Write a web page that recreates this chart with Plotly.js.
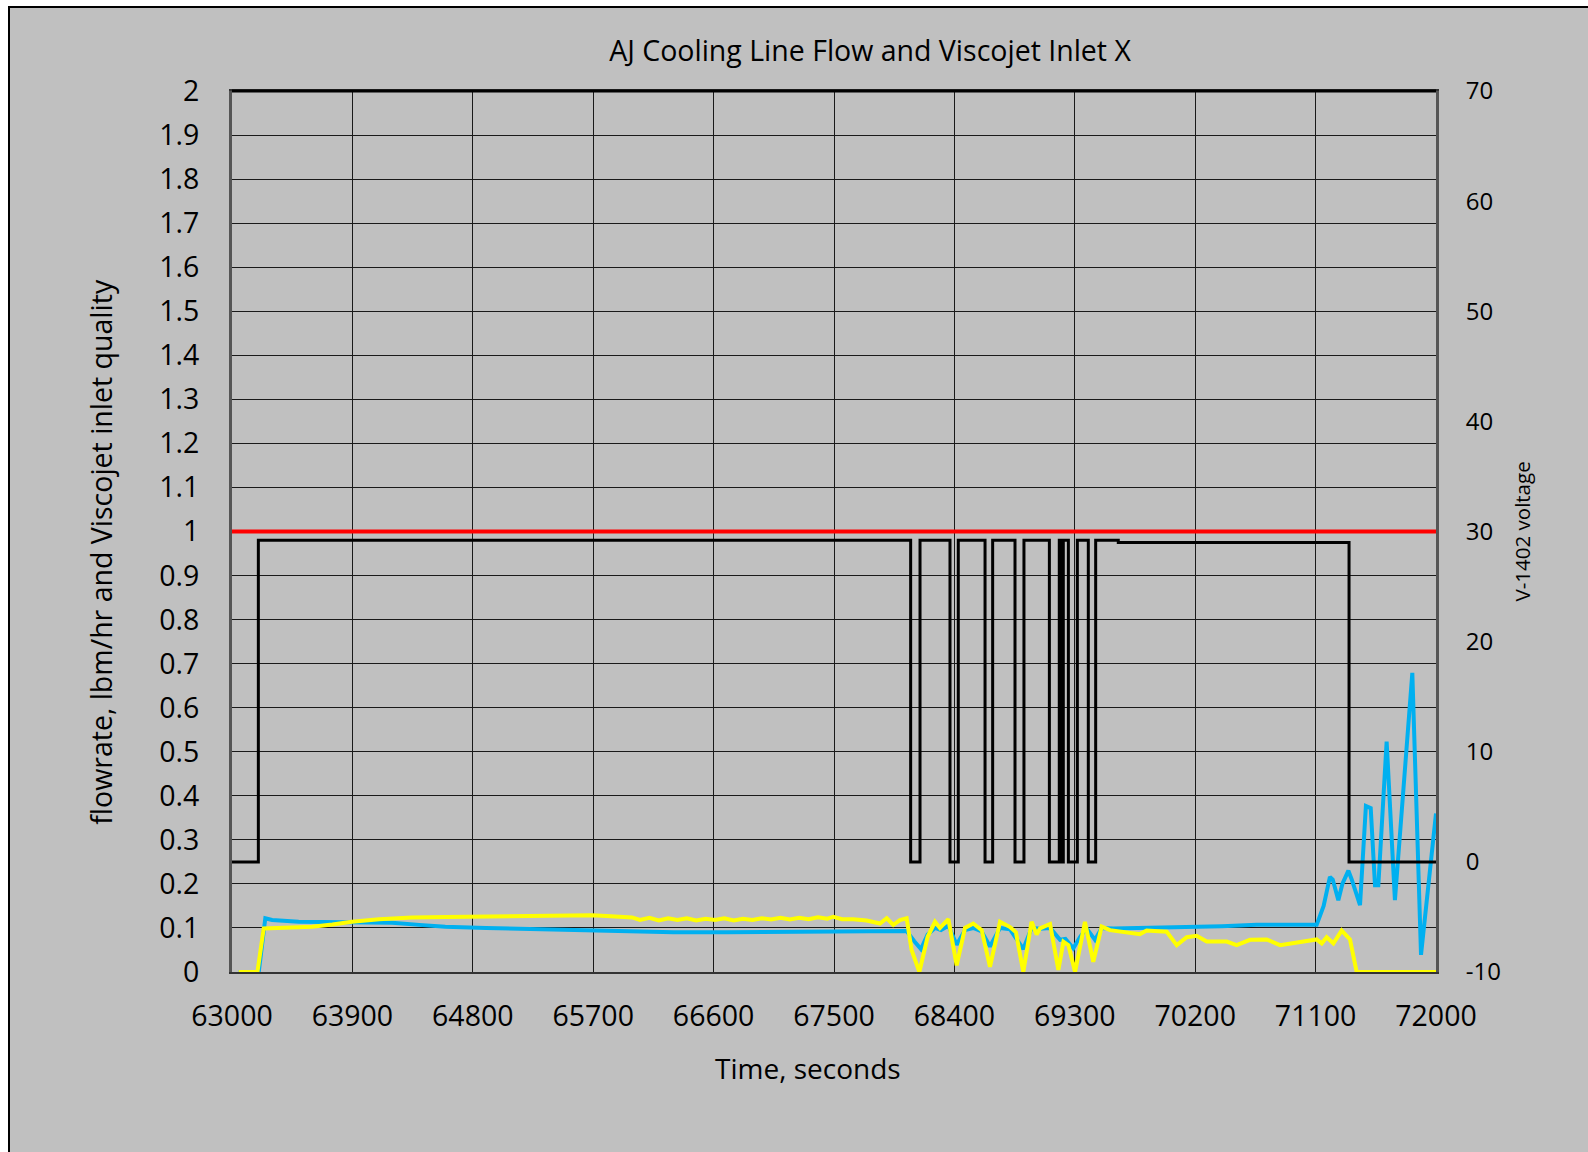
<!DOCTYPE html>
<html>
<head>
<meta charset="utf-8">
<script src="https://cdn.plot.ly/plotly-3.0.1.min.js"></script>
<style>
  html, body { margin: 0; padding: 0; background: #ffffff; }
  #wrap { position: absolute; left: 8px; top: 6px; width: 1580px; height: 1146px;
          border-left: 2px solid #000; border-top: 2px solid #000; background: #c0c0c0; overflow: hidden; }
  #chart { width: 1578px; height: 1144px; }
</style>
</head>
<body>
<div id="wrap"><div id="chart"></div></div>
<script>
// ---- data ----
const titleText = "AJ Cooling Line Flow and Viscojet Inlet X";
const xTitle = "Time, seconds";
const yTitle = "flowrate, lbm/hr and Viscojet inlet quality";
const y2Title = "V-1402 voltage";

// right-axis tick values and labels (plain hyphen as in the reference)
const y2TickVals = [-10, 0, 10, 20, 30, 40, 50, 60, 70];
const y2TickText = ["-10", "0", "10", "20", "30", "40", "50", "60", "70"];

// V-1402 voltage (right axis), step signal: time of each change and new level
const voltX = [63000, 63197, 68073, 68143, 68367, 68429, 68629, 68686, 68853, 68920,
               69110, 69184, 69194, 69214, 69252, 69319, 69401, 69456, 69625, 71350, 72000];
const voltY = [0, 29.2, 0, 29.2, 0, 29.2, 0, 29.2, 0, 29.2,
               0, 29.2, 0, 29.2, 0, 29.2, 0, 29.2, 29.0, 0, 0];

// quality limit (left axis)
const limitX = [63000, 72000];
const limitY = [1, 1];

// flow rate (blue, left axis)
const flowX = [63050, 63200, 63249, 63300, 63498, 63700, 63897, 64050, 64196, 64400, 64594, 64900,
               65243, 65500, 65691, 65900, 66139, 66300, 66700, 67000, 67400, 67700, 67943, 68043,
               68100, 68150, 68200, 68255, 68300, 68355, 68417, 68479, 68541, 68604, 68666, 68741,
               68816, 68915, 68977, 69040, 69115, 69190, 69230, 69289, 69340, 69388, 69451, 69501,
               69588, 69800, 70000, 70161, 70400, 70660, 70900, 71108, 71160, 71207, 71228, 71270,
               71300, 71345, 71370, 71432, 71476, 71512, 71544, 71569, 71631, 71693, 71823, 71888, 72000];
const flowY = [0, 0, 0.122, 0.118, 0.114, 0.114, 0.114, 0.113, 0.112, 0.107, 0.103, 0.100,
               0.097, 0.096, 0.095, 0.093, 0.091, 0.090, 0.090, 0.091, 0.092, 0.093, 0.094, 0.093,
               0.070, 0.052, 0.085, 0.100, 0.095, 0.105, 0.062, 0.095, 0.100, 0.092, 0.058, 0.100,
               0.097, 0.052, 0.100, 0.098, 0.100, 0.073, 0.075, 0.054, 0.080, 0.099, 0.073, 0.100,
               0.099, 0.100, 0.102, 0.103, 0.104, 0.107, 0.106, 0.107, 0.150, 0.216, 0.210, 0.163,
               0.200, 0.230, 0.210, 0.152, 0.377, 0.372, 0.197, 0.197, 0.523, 0.163, 0.679, 0.039, 0.360];

// Viscojet inlet quality (yellow, left axis)
const qualX = [63050, 63190, 63237, 63400, 63598, 63750, 63897, 64100, 64345, 64600, 64794, 65000,
               65300, 65500, 65691, 65800, 65990, 66050, 66120, 66190, 66260, 66330, 66400, 66470,
               66540, 66610, 66680, 66750, 66820, 66890, 66960, 67030, 67100, 67170, 67240, 67310,
               67380, 67450, 67495, 67560, 67644, 67744, 67794, 67844, 67894, 67943, 67993, 68043,
               68080, 68138, 68200, 68255, 68292, 68355, 68417, 68479, 68541, 68604, 68666, 68741,
               68816, 68860, 68915, 68977, 69015, 69040, 69115, 69177, 69215, 69252, 69302, 69376,
               69438, 69501, 69563, 69638, 69787, 69837, 69987, 70062, 70137, 70211, 70286, 70436,
               70510, 70610, 70734, 70834, 70983, 71108, 71146, 71183, 71233, 71295, 71357, 71407, 72000];
const qualY = [0, 0, 0.099, 0.101, 0.103, 0.108, 0.114, 0.120, 0.124, 0.125, 0.1255, 0.125,
               0.126, 0.127, 0.129, 0.127, 0.124, 0.118, 0.123, 0.117, 0.122, 0.118, 0.122, 0.117,
               0.121, 0.118, 0.122, 0.117, 0.121, 0.118, 0.122, 0.119, 0.123, 0.119, 0.123, 0.120,
               0.124, 0.121, 0.1255, 0.120, 0.120, 0.117, 0.114, 0.110, 0.122, 0.107, 0.118, 0.122,
               0.050, 0.000, 0.080, 0.114, 0.100, 0.120, 0.015, 0.100, 0.110, 0.095, 0.012, 0.114,
               0.102, 0.090, 0.000, 0.114, 0.085, 0.099, 0.109, 0.005, 0.069, 0.061, 0.000, 0.114,
               0.023, 0.103, 0.095, 0.0915, 0.086, 0.094, 0.0915, 0.061, 0.079, 0.082, 0.069, 0.069,
               0.061, 0.073, 0.074, 0.061, 0.069, 0.074, 0.065, 0.079, 0.065, 0.094, 0.074, 0.000, 0.000];

// ---- chart ----
const font = "'Open Sans', 'Noto Sans', sans-serif";
const traces = [
  { x: voltX, y: voltY, yaxis: 'y2', mode: 'lines', line: { color: '#000000', width: 3, shape: 'hv' }, name: 'V-1402 voltage' },
  { x: limitX, y: limitY, mode: 'lines', line: { color: '#ff0000', width: 4 }, name: 'limit' },
  { x: flowX, y: flowY, mode: 'lines', line: { color: '#00b0f0', width: 4 }, name: 'flowrate' },
  { x: qualX, y: qualY, mode: 'lines', line: { color: '#ffff00', width: 4 }, name: 'quality' }
];

const layout = {
  width: 1578, height: 1144,
  paper_bgcolor: '#c0c0c0', plot_bgcolor: '#c0c0c0',
  margin: { l: 222, r: 152, t: 83, b: 180 },
  showlegend: false,
  font: { family: font, color: '#000' },
  title: { text: titleText, font: { size: 28.5, family: font, color: '#000' },
           xref: 'container', yref: 'container', x: 0.545, xanchor: 'center', y: 1 - 43 / 1144, yanchor: 'middle' },
  xaxis: {
    range: [63000, 72000], dtick: 900, tick0: 63000, tickformat: 'd',
    showgrid: true, gridcolor: '#1a1a1a', gridwidth: 1,
    showline: true, linecolor: '#333333', linewidth: 2, mirror: true,
    ticks: '', ticklabelstandoff: 18, tickfont: { size: 28.5, family: font, color: '#000' },
    zeroline: false
  },
  yaxis: {
    range: [0, 2], dtick: 0.1, tick0: 0,
    showgrid: true, gridcolor: '#1a1a1a', gridwidth: 1,
    showline: true, linecolor: '#555555', linewidth: 3, mirror: false,
    ticks: '', ticklabelstandoff: 24, tickfont: { size: 28.5, family: font, color: '#000' },
    zeroline: false
  },
  yaxis2: {
    range: [-10, 70], tickmode: 'array', tickvals: y2TickVals, ticktext: y2TickText,
    overlaying: 'y', side: 'right',
    showgrid: false, zeroline: false,
    showline: true, linecolor: '#555555', linewidth: 3,
    ticks: '', ticklabelstandoff: 22, tickfont: { size: 24, family: font, color: '#000' }
  },
  shapes: [
    { type: 'line', xref: 'paper', yref: 'paper', x0: 0, x1: 1, y0: 1, y1: 1, line: { color: '#000', width: 3 } }
  ],
  annotations: [
    { text: xTitle, xref: 'paper', yref: 'paper', x: 0.478, y: -0.109, xanchor: 'center', yanchor: 'middle',
      showarrow: false, font: { size: 28, family: font, color: '#000' } },
    { text: yTitle, xref: 'paper', yref: 'paper', x: -0.1088, y: 0.477, xanchor: 'center', yanchor: 'middle',
      textangle: -90, showarrow: false, font: { size: 28.5, family: font, color: '#000' } },
    { text: y2Title, xref: 'paper', yref: 'paper', x: 1.0714, y: 0.5, xanchor: 'center', yanchor: 'middle',
      textangle: -90, showarrow: false, font: { size: 20.5, family: font, color: '#000' } }
  ]
};

Plotly.newPlot('chart', traces, layout, { displayModeBar: false, staticPlot: true });
</script>
</body>
</html>
